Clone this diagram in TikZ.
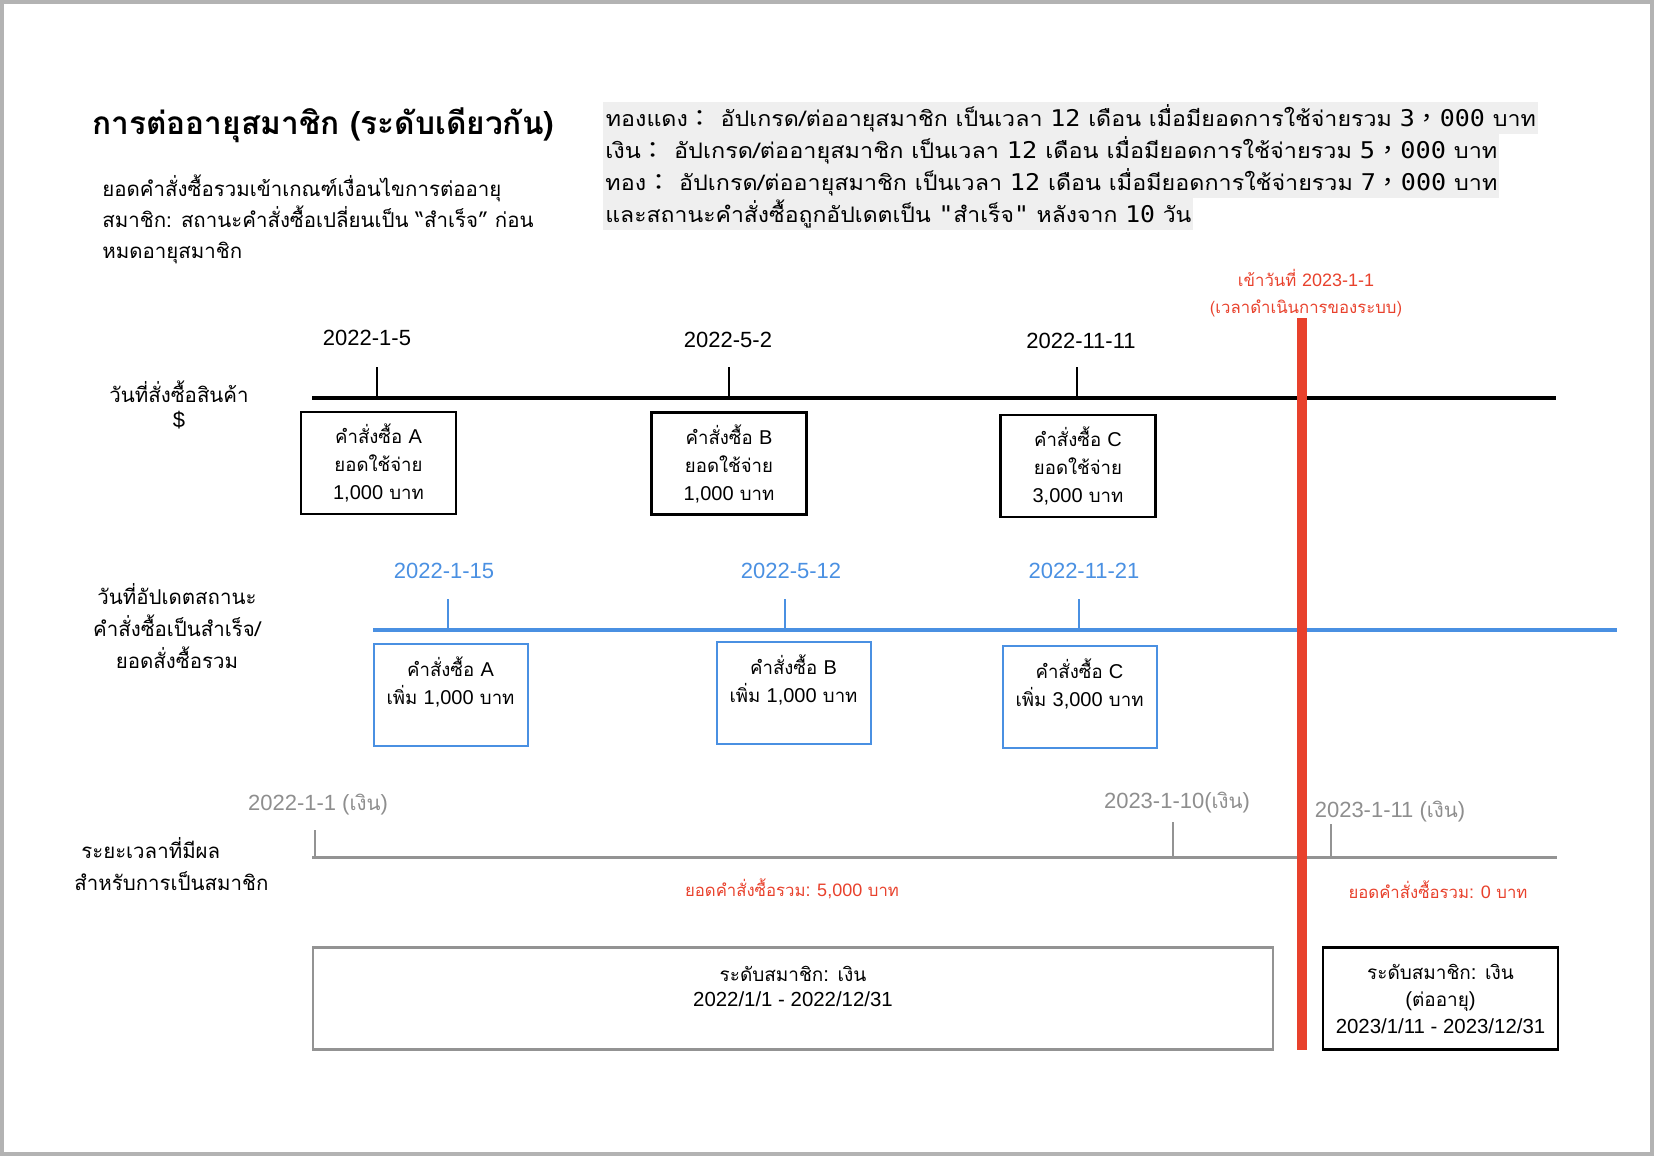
\documentclass[tikz,border=0pt]{standalone}
\usepackage{fontspec}
\usepackage{graphicx}
\setmainfont[Script=Thai, Scale=0.93]{Loma}
\newfontfamily\la{Liberation Sans}
\newfontfamily\lamono{DejaVu Sans Mono}
\newfontfamily\cjktc{Noto Sans CJK TC}
\definecolor{redc}{HTML}{E8412C}
\definecolor{bluec}{HTML}{4A90E2}
\definecolor{grayt}{HTML}{8E8E8E}
\definecolor{grayl}{HTML}{939393}
\definecolor{codebg}{HTML}{EFEFEF}
\definecolor{framec}{HTML}{B3B3B3}
\newcommand{\fw}[1]{{\cjktc #1}}
\newcommand{\mn}[1]{{\lamono #1}}
\begin{document}
\begin{tikzpicture}[x=0.5pt,y=-0.5pt,
  titlet/.style={inner sep=0, anchor=west, font=\bfseries\fontsize{17}{20}\selectfont},
  sidet/.style={inner sep=0, align=center, font=\fontsize{11}{15}\selectfont},
  datet/.style={inner sep=0, font=\la\fontsize{11}{13}\selectfont},
  codeline/.style={anchor=west, fill=codebg, inner xsep=0, inner ysep=0, minimum height=16pt, font=\fontsize{11.5}{12}\selectfont},
  blackbox/.style={draw=black, line width=1.3pt, inner sep=0, align=center, minimum width=77.5pt, minimum height=51pt, font=\fontsize{10}{14}\selectfont},
  bluebox/.style={draw=bluec, line width=1pt, inner sep=0, align=center, minimum width=77pt, minimum height=51pt, font=\fontsize{10}{14}\selectfont},
  redt/.style={inner sep=0, text=redc, font=\fontsize{9}{11}\selectfont},
  tick/.style={line width=1.1pt}
]
\useasboundingbox (0,0) rectangle (1654,1156);
\draw[framec, line width=2pt] (2,2) rectangle (1652,1154);

% title and subtitle
\node[titlet] (title) at (92,125) {การต่ออายุสมาชิก (ระดับเดียวกัน)};
\node[inner sep=0, anchor=west, align=left, font=\fontsize{11}{15.5}\selectfont] (sub) at (102,219)
  {ยอดคำสั่งซื้อรวมเข้าเกณฑ์เงื่อนไขการต่ออายุ\\สมาชิก: สถานะคำสั่งซื้อเปลี่ยนเป็น “สำเร็จ” ก่อน\\หมดอายุสมาชิก};

% rules (code-styled)
\node[codeline, minimum width=467.5pt] (r1) at (603,118)
  {\resizebox{465pt}{\height}{ทองแดง\fw{：} อัปเกรด/ต่ออายุสมาชิก เป็นเวลา \mn{12} เดือน เมื่อมียอดการใช้จ่ายรวม \mn{3}\fw{，}\mn{000} บาท}};
\node[codeline, minimum width=448pt] (r2) at (603,150)
  {\resizebox{446pt}{\height}{เงิน\fw{：} อัปเกรด/ต่ออายุสมาชิก เป็นเวลา \mn{12} เดือน เมื่อมียอดการใช้จ่ายรวม \mn{5}\fw{，}\mn{000} บาท}};
\node[codeline, minimum width=448pt] (r3) at (603,182)
  {\resizebox{446pt}{\height}{ทอง\fw{：} อัปเกรด/ต่ออายุสมาชิก เป็นเวลา \mn{12} เดือน เมื่อมียอดการใช้จ่ายรวม \mn{7}\fw{，}\mn{000} บาท}};
\node[codeline, minimum width=295pt] (r4) at (603,214)
  {\resizebox{293pt}{\height}{และสถานะคำสั่งซื้อถูกอัปเดตเป็น \mn{"}สำเร็จ\mn{"} หลังจาก \mn{10} วัน}};

% system time note
\node[inner sep=0, align=center, text=redc, font=\fontsize{9}{13.5}\selectfont] (sys) at (1306,293)
  {เข้าวันที่ {\la 2023-1-1}\\({\la}เวลาดำเนินการของระบบ{\la})};

% ---- order date row ----
\node[sidet, font=\fontsize{11}{12.5}\selectfont] (lab1) at (179,405) {วันที่สั่งซื้อสินค้า\\{\la\$}};
\coordinate (bl0) at (312,398);
\coordinate (bl1) at (1556,398);
\draw[line width=2.2pt] (bl0) -- (bl1);
\node[datet] (d1) at (367,338) {2022-1-5};
\node[datet] (d2) at (728,340) {2022-5-2};
\node[datet] (d3) at (1081,341) {2022-11-11};
\coordinate (t1) at (377,367); \coordinate (t1b) at (377,398);
\coordinate (t2) at (729,367); \coordinate (t2b) at (729,398);
\coordinate (t3) at (1077,367); \coordinate (t3b) at (1077,398);
\draw[tick] (t1) -- (t1b);
\draw[tick] (t2) -- (t2b);
\draw[tick] (t3) -- (t3b);
\node[blackbox] (oa) at (378.5,463) {คำสั่งซื้อ {\la A}\\ยอดใช้จ่าย\\{\la 1,000} บาท};
\node[blackbox] (ob) at (729,463.5) {คำสั่งซื้อ {\la B}\\ยอดใช้จ่าย\\{\la 1,000} บาท};
\node[blackbox] (oc) at (1078,466) {คำสั่งซื้อ {\la C}\\ยอดใช้จ่าย\\{\la 3,000} บาท};

% ---- status update row ----
\node[sidet, font=\fontsize{11}{16}\selectfont] (lab2) at (177,626) {วันที่อัปเดตสถานะ\\คำสั่งซื้อเป็นสำเร็จ/\\ยอดสั่งซื้อรวม};
\coordinate (bu0) at (373,630);
\coordinate (bu1) at (1617,630);
\draw[bluec, line width=1.7pt] (bu0) -- (bu1);
\node[datet, text=bluec] (u1) at (444,571) {2022-1-15};
\node[datet, text=bluec] (u2) at (791,571) {2022-5-12};
\node[datet, text=bluec] (u3) at (1084,571) {2022-11-21};
\coordinate (s1) at (448,599); \coordinate (s1b) at (448,630);
\coordinate (s2) at (785,599); \coordinate (s2b) at (785,630);
\coordinate (s3) at (1079,599); \coordinate (s3b) at (1079,630);
\draw[tick, bluec] (s1) -- (s1b);
\draw[tick, bluec] (s2) -- (s2b);
\draw[tick, bluec] (s3) -- (s3b);
\node[bluebox] (ua) at (450.5,695) {คำสั่งซื้อ {\la A}\\เพิ่ม {\la 1,000} บาท\\\mbox{}};
\node[bluebox] (ub) at (793.5,693) {คำสั่งซื้อ {\la B}\\เพิ่ม {\la 1,000} บาท\\\mbox{}};
\node[bluebox] (uc) at (1079.5,696.5) {คำสั่งซื้อ {\la C}\\เพิ่ม {\la 3,000} บาท\\\mbox{}};

% ---- membership period row ----
\node[inner sep=0, anchor=west, align=left, font=\fontsize{11}{16}\selectfont] (lab3) at (74,864) {\ ระยะเวลาที่มีผล\\สำหรับการเป็นสมาชิก};
\coordinate (bg0) at (312,857);
\coordinate (bg1) at (1557,857);
\draw[grayl, line width=1.5pt] (bg0) -- (bg1);
\node[datet, text=grayt] (g1) at (318,805) {2022-1-1 ({\rmfamily เงิน})};
\node[datet, text=grayt] (g2) at (1177,803) {2023-1-10({\rmfamily เงิน})};
\node[datet, text=grayt] (g3) at (1390,812) {2023-1-11 ({\rmfamily เงิน})};
\coordinate (p1) at (315,830); \coordinate (p1b) at (315,857);
\coordinate (p2) at (1173,822); \coordinate (p2b) at (1173,857);
\coordinate (p3) at (1331,824); \coordinate (p3b) at (1331,857);
\draw[tick, grayl] (p1) -- (p1b);
\draw[tick, grayl] (p2) -- (p2b);
\draw[tick, grayl] (p3) -- (p3b);
\node[redt] (tot1) at (792,889) {ยอดคำสั่งซื้อรวม{\la: 5,000} บาท};
\node[redt] (tot2) at (1438,890) {ยอดคำสั่งซื้อรวม{\la: 0} บาท};

\node[draw=grayl, line width=1.2pt, inner sep=0, align=center, minimum width=480pt, minimum height=51pt, font=\fontsize{10.2}{12.5}\selectfont] (m1) at (793,998.5)
  {ระดับสมาชิก{\la :} เงิน\\{\la 2022/1/1 - 2022/12/31}\\\mbox{}};
\node[draw=black, line width=1.3pt, inner sep=0, align=center, minimum width=117.5pt, minimum height=51pt, font=\fontsize{10.2}{13.5}\selectfont] (m2) at (1440.5,998.5)
  {ระดับสมาชิก{\la :} เงิน\\{\la (}ต่ออายุ{\la )}\\{\la 2023/1/11 - 2023/12/31}};

% system time bar
\coordinate (rt) at (1302,318);
\coordinate (rb) at (1302,1050);
\draw[redc, line width=5pt] (rt) -- (rb);
\end{tikzpicture}
\end{document}
